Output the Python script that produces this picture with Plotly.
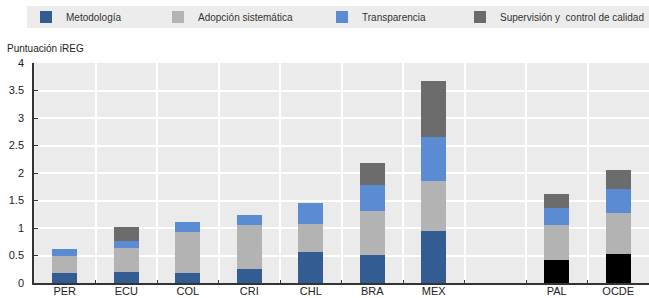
import plotly.graph_objects as go

categories = ["PER", "ECU", "COL", "CRI", "CHL", "BRA", "MEX", " ", "PAL", "OCDE"]
metodologia = [0.18, 0.20, 0.18, 0.25, 0.56, 0.51, 0.95, None, 0.41, 0.53]
adopcion = [0.32, 0.43, 0.74, 0.80, 0.52, 0.80, 0.91, None, 0.64, 0.74]
transparencia = [0.12, 0.13, 0.19, 0.19, 0.37, 0.47, 0.79, None, 0.32, 0.44]
supervision = [0.0, 0.26, 0.0, 0.0, 0.0, 0.41, 1.02, None, 0.25, 0.35]
series_names = ["Metodología", "Adopción sistemática", "Transparencia", "Supervisión y  control de calidad"]
yticks = [0, 0.5, 1, 1.5, 2, 2.5, 3, 3.5, 4]

C_MET = "#335d92"
C_ADO = "#b3b3b3"
C_TRA = "#5a8bd3"
C_SUP = "#6c6c6c"
met_colors = ["#000000" if c in ("PAL", "OCDE") else C_MET for c in categories]

FONT = "Liberation Sans, Arial, sans-serif"

W, H = 649, 298
L, R, T, B = 34, 0, 63, 15
pw, ph = W - L - R, H - T - B

def px_x(p):
    return (p - L) / pw

def px_y(p):
    return (H - B - p) / ph

fig = go.Figure()
data = [metodologia, adopcion, transparencia, supervision]
colors = [met_colors, C_ADO, C_TRA, C_SUP]
legend_ids = ["legend", "legend2", "legend3", "legend4"]
for name, vals, col, lg in zip(series_names, data, colors, legend_ids):
    fig.add_trace(go.Bar(
        x=categories, y=vals, name=name,
        marker=dict(color=col, line=dict(width=0)),
        legend=lg,
    ))

legend_x_px = [26, 158, 322, 649]
legend_anchor = ["left", "left", "left", "right"]
legend_common = dict(
    orientation="h", yanchor="middle",
    bgcolor="rgba(0,0,0,0)", font=dict(family=FONT, size=10, color="#333333"),
    itemwidth=30,
)
layout_legends = {}
for lg, xp, anc in zip(legend_ids, legend_x_px, legend_anchor):
    layout_legends[lg] = dict(legend_common, x=px_x(xp), xanchor=anc, y=px_y(17))

fig.update_layout(
    width=W, height=H,
    margin=dict(l=L, r=R, t=T, b=B),
    barmode="stack", bargap=0.6,
    paper_bgcolor="white", plot_bgcolor="#ebebeb",
    font=dict(family=FONT, size=11, color="#222222"),
    showlegend=True,
    **layout_legends,
    xaxis=dict(
        type="category", tickson="boundaries", ticks="inside", ticklen=3,
        tickcolor="#333333", showline=True, linecolor="#333333", linewidth=1.5,
        showgrid=True, gridcolor="white", gridwidth=1.5, automargin=False,
        ticklabelstandoff=-3,
        tickfont=dict(family=FONT, size=11, color="#222222"),
    ),
    yaxis=dict(
        range=[0, 4], tickvals=yticks, ticktext=[f"{v:g}" for v in yticks],
        ticks="inside", ticklen=4, tickcolor="#333333", ticklabelstandoff=6,
        showline=True, linecolor="#333333", linewidth=1.5,
        showgrid=True, gridcolor="white", gridwidth=1.5, zeroline=False,
        automargin=False, tickfont=dict(family=FONT, size=11, color="#222222"),
    ),
    shapes=[dict(
        type="rect", xref="paper", yref="paper",
        x0=px_x(27), x1=px_x(649), y0=px_y(28), y1=px_y(6),
        fillcolor="#ececec", line=dict(width=0), layer="below",
    )],
    annotations=[dict(
        text="Puntuación iREG", xref="paper", yref="paper",
        x=px_x(5), y=px_y(48), xanchor="left", yanchor="middle",
        showarrow=False, font=dict(family=FONT, size=10, color="#222222"),
    )],
)

fig.write_html(
    "out.html",
    config={"displayModeBar": False},
    post_script="document.documentElement.style.overflow='hidden';document.body.style.overflow='hidden';document.body.style.margin='0';",
)
